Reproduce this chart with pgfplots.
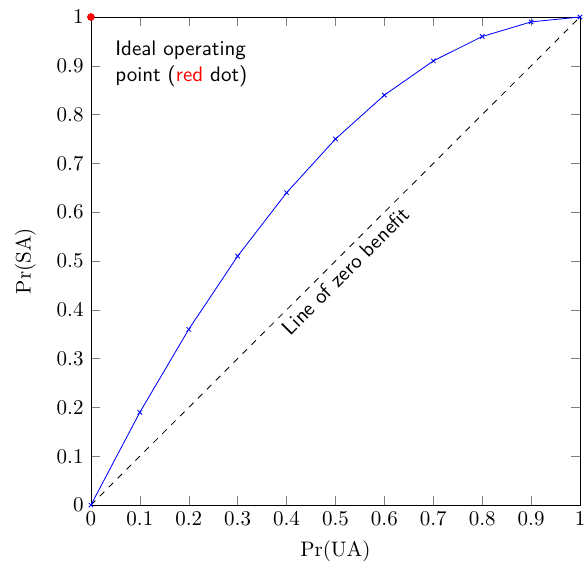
\documentclass[border=0pt]{standalone}
\usepackage{pgfplots}
\pgfplotsset{compat=1.18}
\begin{document}
\begin{tikzpicture}
\begin{axis}[
  width=232.9pt, height=232.4pt, scale only axis,
  xmin=0, xmax=1, ymin=0, ymax=1,
  xtick={0,0.1,...,1}, ytick={0,0.1,...,1},
  xlabel={$\Pr(\mathrm{UA})$}, ylabel={$\Pr(\mathrm{SA})$},
  ylabel shift=3pt,
  clip=false,
]
\addplot[black, dashed] coordinates {(0,0) (1,1)};
\addplot[blue, mark=x, mark size=1.5pt] coordinates {
 (0,0) (0.1,0.19) (0.2,0.36) (0.3,0.51) (0.4,0.64) (0.5,0.75)
 (0.6,0.84) (0.7,0.91) (0.8,0.96) (0.9,0.99) (1,1)};
\addplot[red, only marks, mark=*, mark size=1.6pt] coordinates {(0,1)};
\node[anchor=north west, align=left, font=\sffamily, inner sep=0pt] at (axis cs:0.049,0.951) {Ideal operating\\point ({\color{red}red} dot)};
\node[rotate=45, anchor=north, font=\sffamily, inner sep=3pt] at (axis cs:0.5,0.5) {Line of zero benefit};
\coordinate (LL) at (rel axis cs:0,0);
\coordinate (UR) at (rel axis cs:1,1);
\end{axis}
\pgfresetboundingbox
\path[use as bounding box] ([xshift=-43.3pt,yshift=-27.1pt]LL) rectangle ([xshift=1.9pt,yshift=8.1pt]UR);
\end{tikzpicture}
\end{document}
